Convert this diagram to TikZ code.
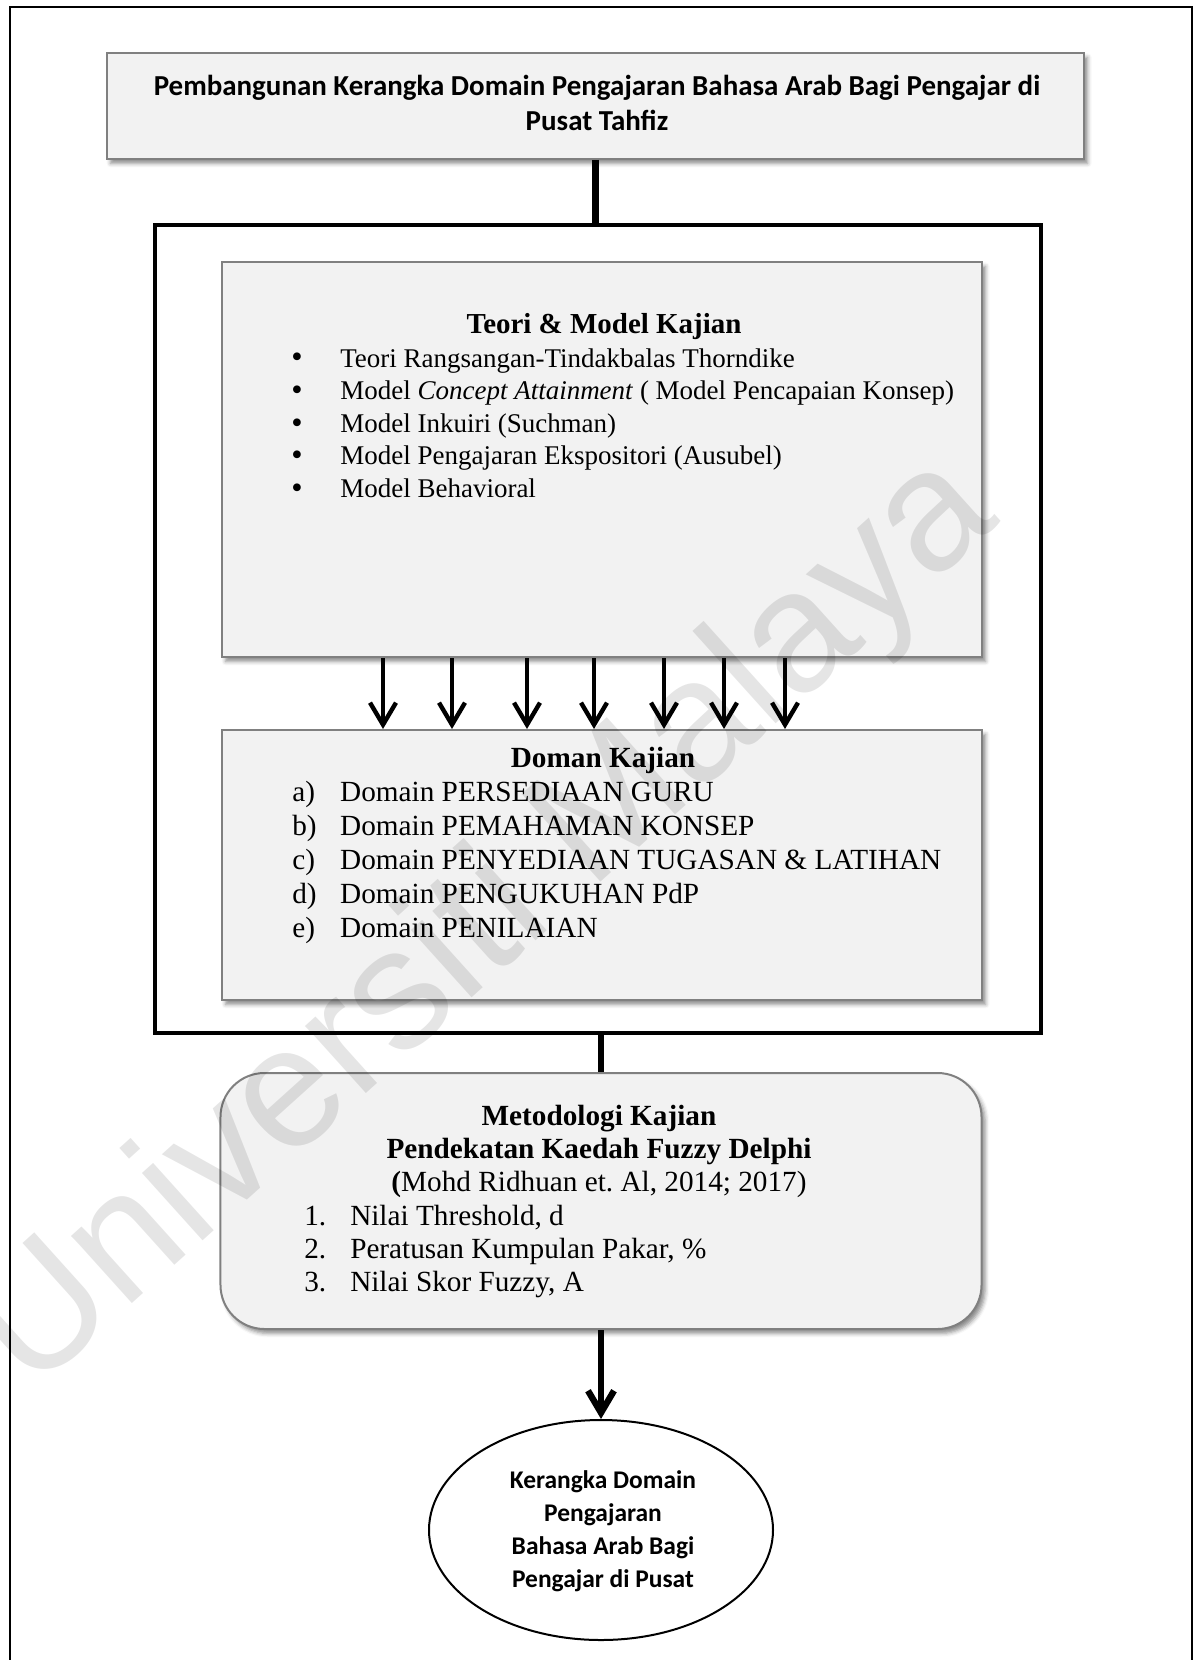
\documentclass[tikz,border=0pt]{standalone}
\usepackage{fontspec}
\setmainfont{Liberation Serif}
\newfontfamily\calibri{Carlito}
\newfontfamily\wmfont{Liberation Sans}
\usetikzlibrary{arrows.meta, shapes.geometric, shadows.blur}
\frenchspacing
\newcommand{\titik}{\raisebox{-0.6pt}{\fontsize{23}{23}\selectfont\textbullet}}

\begin{document}
\begin{tikzpicture}[x=0.25mm, y=-0.25mm,
		kotak/.style={draw=black!50, line width=0.5mm, fill=black!5, blur shadow={shadow xshift=0.9mm, shadow yshift=-1.1mm, shadow blur radius=1mm, shadow opacity=45}},
		teks/.style={inner sep=0pt, anchor=base},
		garis/.style={line width=1.6mm},
		panah/.style={line width=1.1mm, -{Straight Barb[length=5.5mm, width=6.5mm]}}]
		\useasboundingbox (0,0) rectangle (1199,1660);
		\draw[line width=0.7mm] (10,1670) -- (10,7) -- (1192,7) -- (1192,1670);
		\node (judul) at (595.5,106) [kotak, minimum width=244.25mm, minimum height=26.5mm] {};
		\node (judulteks) at (597,96) [teks, font=\calibri\bfseries\fontsize{20.6}{24.2}\selectfont] {\begin{tabular}[t]{@{}c@{}}
				Pembangunan Kerangka Domain Pengajaran Bahasa Arab Bagi Pengajar di\\
				Pusat Tahfiz\\
		\end{tabular}};
		\node (bingkai) at (598,629) [draw, line width=1.2mm, minimum width=221.5mm, minimum height=202mm] {};
		\node (teori) at (602,459.5) [kotak, minimum width=190mm, minimum height=98.75mm] {};
		\node (teorijudul) at (604,333) [teks, font=\bfseries\fontsize{20.6}{24}\selectfont] {Teori \& Model Kajian};
		\node (teorisenarai) at (291,367) [teks, anchor=base west, font=\fontsize{19.2}{23.2}\selectfont] {\begin{tabular}[t]{@{}p{34.9pt}@{}l@{}}
				\titik & Teori Rangsangan-Tindakbalas Thorndike\\
				\titik & Model \textit{Concept Attainment} ( Model Pencapaian Konsep)\\
				\titik & Model Inkuiri (Suchman)\\
				\titik & Model Pengajaran Ekspositori (Ausubel)\\
				\titik & Model Behavioral\\
		\end{tabular}};
		\node (doman) at (602,865) [kotak, minimum width=190mm, minimum height=67.5mm] {};
		\node (domanjudul) at (603,767) [teks, font=\bfseries\fontsize{20.8}{24.2}\selectfont] {Doman Kajian};
		\node (domansenarai) at (292,801) [teks, anchor=base west, font=\fontsize{20.8}{24.2}\selectfont] {\begin{tabular}[t]{@{}p{34.1pt}@{}l@{}}
				a) & Domain PERSEDIAAN GURU\\
				b) & Domain PEMAHAMAN KONSEP\\
				c) & Domain PENYEDIAAN TUGASAN \& LATIHAN\\
				d) & Domain PENGUKUHAN PdP\\
				e) & Domain PENILAIAN\\
		\end{tabular}};
		\node (metod) at (601,1201) [kotak, rounded corners=11mm, minimum width=190.25mm, minimum height=64mm] {};
		\node (metodjudul) at (599,1125) [teks, font=\fontsize{20.8}{23.7}\selectfont] {\begin{tabular}[t]{@{}c@{}}
				\textbf{Metodologi Kajian}\\
				\textbf{Pendekatan Kaedah Fuzzy Delphi}\\
				\textbf{(}Mohd Ridhuan et. Al, 2014; 2017)\\
		\end{tabular}};
		\node (metodsenarai) at (304,1225) [teks, anchor=base west, font=\fontsize{20.8}{23.7}\selectfont] {\begin{tabular}[t]{@{}p{32.7pt}@{}l@{}}
				1. & Nilai Threshold, d\\
				2. & Peratusan Kumpulan Pakar, \%\\
				3. & Nilai Skor Fuzzy, A\\
		\end{tabular}};
		\node (hasil) at (601,1530) [draw, ellipse, line width=0.5mm, minimum width=86mm, minimum height=55mm, inner sep=0pt] {};
		\node (hasilteks) at (603,1488) [teks, font=\calibri\bfseries\fontsize{18.1}{23.5}\selectfont] {\begin{tabular}[t]{@{}c@{}}
				Kerangka Domain\\
				Pengajaran\\
				Bahasa Arab Bagi\\
				Pengajar di Pusat\\
		\end{tabular}};
		\draw[garis] (judul.south) -- (judul.south |- bingkai.north);
		\draw[garis] (metod.north |- bingkai.south) -- (metod.north);
		\draw[panah, line width=1.6mm] (metod.south) -- (hasil.north);
		\draw[panah] (teori.south) ++(-219,0) coordinate (p1) -- (p1 |- doman.north);
		\draw[panah] (teori.south) ++(-150,0) coordinate (p2) -- (p2 |- doman.north);
		\draw[panah] (teori.south) ++(-75,0) coordinate (p3) -- (p3 |- doman.north);
		\draw[panah] (teori.south) ++(-8,0) coordinate (p4) -- (p4 |- doman.north);
		\draw[panah] (teori.south) ++(62,0) coordinate (p5) -- (p5 |- doman.north);
		\draw[panah] (teori.south) ++(122,0) coordinate (p6) -- (p6 |- doman.north);
		\draw[panah] (teori.south) ++(183,0) coordinate (p7) -- (p7 |- doman.north);
		\node (tandaair) at (487,925) [rotate=42, text=black, text opacity=0.1, font=\wmfont\fontsize{122}{122}\selectfont] {Universiti Malaya};
	\end{tikzpicture}
\end{document}
